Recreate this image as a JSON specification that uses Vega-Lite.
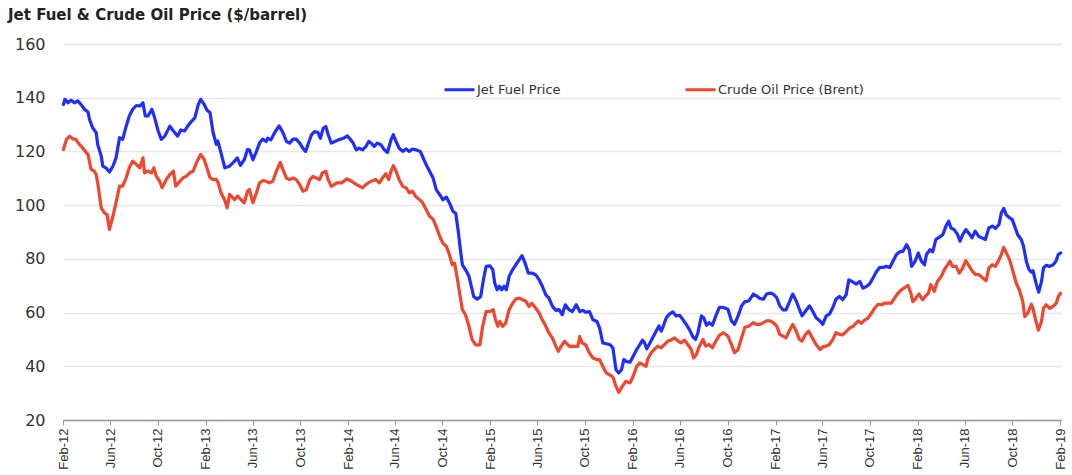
{
  "$schema": "https://vega.github.io/schema/vega-lite/v6.json",
  "width": 998,
  "height": 376,
  "autosize": "none",
  "padding": {"left": 63, "top": 44, "right": 11, "bottom": 55},
  "background": "white",
  "title": {"text": "Jet Fuel & Crude Oil Price ($/barrel)", "anchor": "start", "frame": "group", "dx": -55, "offset": 13, "font": "DejaVu Sans", "fontSize": 15, "fontWeight": "bold", "color": "#222222"},
  "config": {"view": {"stroke": null}},
  "data": {"values": [
    {"date":"2012-02-02","s":"Jet Fuel Price","v":137.5},
    {"date":"2012-02-06","s":"Jet Fuel Price","v":139.4},
    {"date":"2012-02-14","s":"Jet Fuel Price","v":138.1},
    {"date":"2012-02-22","s":"Jet Fuel Price","v":139.1},
    {"date":"2012-03-01","s":"Jet Fuel Price","v":138.1},
    {"date":"2012-03-10","s":"Jet Fuel Price","v":138.8},
    {"date":"2012-03-18","s":"Jet Fuel Price","v":137.5},
    {"date":"2012-03-27","s":"Jet Fuel Price","v":135.7},
    {"date":"2012-04-05","s":"Jet Fuel Price","v":134.7},
    {"date":"2012-04-09","s":"Jet Fuel Price","v":131.9},
    {"date":"2012-04-17","s":"Jet Fuel Price","v":128.8},
    {"date":"2012-04-26","s":"Jet Fuel Price","v":127.0},
    {"date":"2012-04-30","s":"Jet Fuel Price","v":122.6},
    {"date":"2012-05-09","s":"Jet Fuel Price","v":118.3},
    {"date":"2012-05-13","s":"Jet Fuel Price","v":114.5},
    {"date":"2012-05-21","s":"Jet Fuel Price","v":113.9},
    {"date":"2012-05-30","s":"Jet Fuel Price","v":112.3},
    {"date":"2012-06-08","s":"Jet Fuel Price","v":114.5},
    {"date":"2012-06-16","s":"Jet Fuel Price","v":117.6},
    {"date":"2012-06-25","s":"Jet Fuel Price","v":125.1},
    {"date":"2012-07-03","s":"Jet Fuel Price","v":124.5},
    {"date":"2012-07-12","s":"Jet Fuel Price","v":129.4},
    {"date":"2012-07-20","s":"Jet Fuel Price","v":133.2},
    {"date":"2012-07-29","s":"Jet Fuel Price","v":135.7},
    {"date":"2012-08-07","s":"Jet Fuel Price","v":137.1},
    {"date":"2012-08-16","s":"Jet Fuel Price","v":136.9},
    {"date":"2012-08-24","s":"Jet Fuel Price","v":138.1},
    {"date":"2012-08-30","s":"Jet Fuel Price","v":133.2},
    {"date":"2012-09-06","s":"Jet Fuel Price","v":133.2},
    {"date":"2012-09-16","s":"Jet Fuel Price","v":135.7},
    {"date":"2012-09-23","s":"Jet Fuel Price","v":132.5},
    {"date":"2012-10-02","s":"Jet Fuel Price","v":127.6},
    {"date":"2012-10-10","s":"Jet Fuel Price","v":124.5},
    {"date":"2012-10-19","s":"Jet Fuel Price","v":125.7},
    {"date":"2012-11-01","s":"Jet Fuel Price","v":129.4},
    {"date":"2012-11-10","s":"Jet Fuel Price","v":127.6},
    {"date":"2012-11-21","s":"Jet Fuel Price","v":125.7},
    {"date":"2012-11-29","s":"Jet Fuel Price","v":128.0},
    {"date":"2012-12-09","s":"Jet Fuel Price","v":127.6},
    {"date":"2012-12-18","s":"Jet Fuel Price","v":129.7},
    {"date":"2012-12-27","s":"Jet Fuel Price","v":131.3},
    {"date":"2013-01-04","s":"Jet Fuel Price","v":132.5},
    {"date":"2013-01-13","s":"Jet Fuel Price","v":137.5},
    {"date":"2013-01-19","s":"Jet Fuel Price","v":139.4},
    {"date":"2013-01-28","s":"Jet Fuel Price","v":137.5},
    {"date":"2013-02-04","s":"Jet Fuel Price","v":135.4},
    {"date":"2013-02-12","s":"Jet Fuel Price","v":134.4},
    {"date":"2013-02-20","s":"Jet Fuel Price","v":127.0},
    {"date":"2013-02-28","s":"Jet Fuel Price","v":122.6},
    {"date":"2013-03-04","s":"Jet Fuel Price","v":123.9},
    {"date":"2013-03-12","s":"Jet Fuel Price","v":119.5},
    {"date":"2013-03-22","s":"Jet Fuel Price","v":113.9},
    {"date":"2013-04-03","s":"Jet Fuel Price","v":114.5},
    {"date":"2013-04-16","s":"Jet Fuel Price","v":116.4},
    {"date":"2013-04-23","s":"Jet Fuel Price","v":117.6},
    {"date":"2013-05-01","s":"Jet Fuel Price","v":114.8},
    {"date":"2013-05-11","s":"Jet Fuel Price","v":117.0},
    {"date":"2013-05-19","s":"Jet Fuel Price","v":120.7},
    {"date":"2013-05-24","s":"Jet Fuel Price","v":120.6},
    {"date":"2013-06-02","s":"Jet Fuel Price","v":116.9},
    {"date":"2013-06-11","s":"Jet Fuel Price","v":120.0},
    {"date":"2013-06-19","s":"Jet Fuel Price","v":123.1},
    {"date":"2013-06-27","s":"Jet Fuel Price","v":124.6},
    {"date":"2013-07-06","s":"Jet Fuel Price","v":123.7},
    {"date":"2013-07-10","s":"Jet Fuel Price","v":124.9},
    {"date":"2013-07-18","s":"Jet Fuel Price","v":124.3},
    {"date":"2013-07-27","s":"Jet Fuel Price","v":126.8},
    {"date":"2013-08-08","s":"Jet Fuel Price","v":129.5},
    {"date":"2013-08-18","s":"Jet Fuel Price","v":127.0},
    {"date":"2013-08-27","s":"Jet Fuel Price","v":123.7},
    {"date":"2013-09-04","s":"Jet Fuel Price","v":123.1},
    {"date":"2013-09-13","s":"Jet Fuel Price","v":124.6},
    {"date":"2013-09-21","s":"Jet Fuel Price","v":124.6},
    {"date":"2013-09-30","s":"Jet Fuel Price","v":123.1},
    {"date":"2013-10-08","s":"Jet Fuel Price","v":121.2},
    {"date":"2013-10-15","s":"Jet Fuel Price","v":120.0},
    {"date":"2013-10-21","s":"Jet Fuel Price","v":122.5},
    {"date":"2013-10-30","s":"Jet Fuel Price","v":126.2},
    {"date":"2013-11-07","s":"Jet Fuel Price","v":127.4},
    {"date":"2013-11-16","s":"Jet Fuel Price","v":127.0},
    {"date":"2013-11-22","s":"Jet Fuel Price","v":124.9},
    {"date":"2013-11-29","s":"Jet Fuel Price","v":128.6},
    {"date":"2013-12-06","s":"Jet Fuel Price","v":129.3},
    {"date":"2013-12-12","s":"Jet Fuel Price","v":126.2},
    {"date":"2013-12-20","s":"Jet Fuel Price","v":123.1},
    {"date":"2013-12-29","s":"Jet Fuel Price","v":123.7},
    {"date":"2014-01-07","s":"Jet Fuel Price","v":124.3},
    {"date":"2014-01-20","s":"Jet Fuel Price","v":124.9},
    {"date":"2014-01-30","s":"Jet Fuel Price","v":125.8},
    {"date":"2014-02-06","s":"Jet Fuel Price","v":124.6},
    {"date":"2014-02-14","s":"Jet Fuel Price","v":123.1},
    {"date":"2014-02-22","s":"Jet Fuel Price","v":120.6},
    {"date":"2014-03-01","s":"Jet Fuel Price","v":121.2},
    {"date":"2014-03-10","s":"Jet Fuel Price","v":120.6},
    {"date":"2014-03-19","s":"Jet Fuel Price","v":121.9},
    {"date":"2014-03-26","s":"Jet Fuel Price","v":123.7},
    {"date":"2014-04-01","s":"Jet Fuel Price","v":123.1},
    {"date":"2014-04-09","s":"Jet Fuel Price","v":121.9},
    {"date":"2014-04-17","s":"Jet Fuel Price","v":123.1},
    {"date":"2014-04-26","s":"Jet Fuel Price","v":122.5},
    {"date":"2014-05-05","s":"Jet Fuel Price","v":120.6},
    {"date":"2014-05-13","s":"Jet Fuel Price","v":119.6},
    {"date":"2014-05-22","s":"Jet Fuel Price","v":124.3},
    {"date":"2014-05-28","s":"Jet Fuel Price","v":126.2},
    {"date":"2014-06-04","s":"Jet Fuel Price","v":123.7},
    {"date":"2014-06-12","s":"Jet Fuel Price","v":121.2},
    {"date":"2014-06-21","s":"Jet Fuel Price","v":120.0},
    {"date":"2014-06-30","s":"Jet Fuel Price","v":120.9},
    {"date":"2014-07-08","s":"Jet Fuel Price","v":120.0},
    {"date":"2014-07-16","s":"Jet Fuel Price","v":120.9},
    {"date":"2014-07-25","s":"Jet Fuel Price","v":120.6},
    {"date":"2014-08-05","s":"Jet Fuel Price","v":120.0},
    {"date":"2014-08-11","s":"Jet Fuel Price","v":118.1},
    {"date":"2014-08-20","s":"Jet Fuel Price","v":115.1},
    {"date":"2014-08-29","s":"Jet Fuel Price","v":112.6},
    {"date":"2014-09-07","s":"Jet Fuel Price","v":110.1},
    {"date":"2014-09-15","s":"Jet Fuel Price","v":105.8},
    {"date":"2014-09-24","s":"Jet Fuel Price","v":103.9},
    {"date":"2014-10-02","s":"Jet Fuel Price","v":102.0},
    {"date":"2014-10-11","s":"Jet Fuel Price","v":103.0},
    {"date":"2014-10-19","s":"Jet Fuel Price","v":100.8},
    {"date":"2014-10-28","s":"Jet Fuel Price","v":97.7},
    {"date":"2014-11-04","s":"Jet Fuel Price","v":97.0},
    {"date":"2014-11-10","s":"Jet Fuel Price","v":90.8},
    {"date":"2014-11-16","s":"Jet Fuel Price","v":83.4},
    {"date":"2014-11-21","s":"Jet Fuel Price","v":77.8},
    {"date":"2014-11-29","s":"Jet Fuel Price","v":76.0},
    {"date":"2014-12-08","s":"Jet Fuel Price","v":73.5},
    {"date":"2014-12-14","s":"Jet Fuel Price","v":69.8},
    {"date":"2014-12-20","s":"Jet Fuel Price","v":66.0},
    {"date":"2014-12-29","s":"Jet Fuel Price","v":65.0},
    {"date":"2015-01-07","s":"Jet Fuel Price","v":66.0},
    {"date":"2015-01-14","s":"Jet Fuel Price","v":72.2},
    {"date":"2015-01-21","s":"Jet Fuel Price","v":77.2},
    {"date":"2015-01-31","s":"Jet Fuel Price","v":77.4},
    {"date":"2015-02-07","s":"Jet Fuel Price","v":76.0},
    {"date":"2015-02-12","s":"Jet Fuel Price","v":71.0},
    {"date":"2015-02-18","s":"Jet Fuel Price","v":68.5},
    {"date":"2015-02-24","s":"Jet Fuel Price","v":69.8},
    {"date":"2015-03-02","s":"Jet Fuel Price","v":68.5},
    {"date":"2015-03-08","s":"Jet Fuel Price","v":69.8},
    {"date":"2015-03-14","s":"Jet Fuel Price","v":68.5},
    {"date":"2015-03-21","s":"Jet Fuel Price","v":73.5},
    {"date":"2015-03-30","s":"Jet Fuel Price","v":76.0},
    {"date":"2015-04-07","s":"Jet Fuel Price","v":77.8},
    {"date":"2015-04-16","s":"Jet Fuel Price","v":79.7},
    {"date":"2015-04-23","s":"Jet Fuel Price","v":81.2},
    {"date":"2015-05-01","s":"Jet Fuel Price","v":78.4},
    {"date":"2015-05-09","s":"Jet Fuel Price","v":74.7},
    {"date":"2015-05-18","s":"Jet Fuel Price","v":74.7},
    {"date":"2015-05-28","s":"Jet Fuel Price","v":74.1},
    {"date":"2015-06-06","s":"Jet Fuel Price","v":72.2},
    {"date":"2015-06-14","s":"Jet Fuel Price","v":69.8},
    {"date":"2015-06-23","s":"Jet Fuel Price","v":66.6},
    {"date":"2015-07-01","s":"Jet Fuel Price","v":65.4},
    {"date":"2015-07-10","s":"Jet Fuel Price","v":62.3},
    {"date":"2015-07-19","s":"Jet Fuel Price","v":60.8},
    {"date":"2015-07-27","s":"Jet Fuel Price","v":61.1},
    {"date":"2015-08-04","s":"Jet Fuel Price","v":59.2},
    {"date":"2015-08-12","s":"Jet Fuel Price","v":62.9},
    {"date":"2015-08-21","s":"Jet Fuel Price","v":61.1},
    {"date":"2015-08-30","s":"Jet Fuel Price","v":60.4},
    {"date":"2015-09-09","s":"Jet Fuel Price","v":62.9},
    {"date":"2015-09-18","s":"Jet Fuel Price","v":60.4},
    {"date":"2015-09-26","s":"Jet Fuel Price","v":60.8},
    {"date":"2015-10-04","s":"Jet Fuel Price","v":60.1},
    {"date":"2015-10-13","s":"Jet Fuel Price","v":60.4},
    {"date":"2015-10-22","s":"Jet Fuel Price","v":57.3},
    {"date":"2015-11-01","s":"Jet Fuel Price","v":56.7},
    {"date":"2015-11-08","s":"Jet Fuel Price","v":54.2},
    {"date":"2015-11-16","s":"Jet Fuel Price","v":48.7},
    {"date":"2015-11-25","s":"Jet Fuel Price","v":48.4},
    {"date":"2015-12-05","s":"Jet Fuel Price","v":48.0},
    {"date":"2015-12-12","s":"Jet Fuel Price","v":46.8},
    {"date":"2015-12-20","s":"Jet Fuel Price","v":38.7},
    {"date":"2015-12-27","s":"Jet Fuel Price","v":37.5},
    {"date":"2016-01-03","s":"Jet Fuel Price","v":38.7},
    {"date":"2016-01-09","s":"Jet Fuel Price","v":42.5},
    {"date":"2016-01-16","s":"Jet Fuel Price","v":41.8},
    {"date":"2016-01-25","s":"Jet Fuel Price","v":41.5},
    {"date":"2016-02-02","s":"Jet Fuel Price","v":43.75},
    {"date":"2016-02-11","s":"Jet Fuel Price","v":46.25},
    {"date":"2016-02-19","s":"Jet Fuel Price","v":48.1},
    {"date":"2016-02-26","s":"Jet Fuel Price","v":49.75},
    {"date":"2016-03-02","s":"Jet Fuel Price","v":48.75},
    {"date":"2016-03-08","s":"Jet Fuel Price","v":46.5},
    {"date":"2016-03-14","s":"Jet Fuel Price","v":48.1},
    {"date":"2016-03-23","s":"Jet Fuel Price","v":50.6},
    {"date":"2016-04-01","s":"Jet Fuel Price","v":53.1},
    {"date":"2016-04-08","s":"Jet Fuel Price","v":55.0},
    {"date":"2016-04-14","s":"Jet Fuel Price","v":53.1},
    {"date":"2016-04-20","s":"Jet Fuel Price","v":55.25},
    {"date":"2016-04-27","s":"Jet Fuel Price","v":58.1},
    {"date":"2016-05-05","s":"Jet Fuel Price","v":59.4},
    {"date":"2016-05-14","s":"Jet Fuel Price","v":60.25},
    {"date":"2016-05-22","s":"Jet Fuel Price","v":58.75},
    {"date":"2016-05-31","s":"Jet Fuel Price","v":59.0},
    {"date":"2016-06-08","s":"Jet Fuel Price","v":57.5},
    {"date":"2016-06-17","s":"Jet Fuel Price","v":55.6},
    {"date":"2016-06-25","s":"Jet Fuel Price","v":53.75},
    {"date":"2016-07-04","s":"Jet Fuel Price","v":51.0},
    {"date":"2016-07-11","s":"Jet Fuel Price","v":50.0},
    {"date":"2016-07-17","s":"Jet Fuel Price","v":52.5},
    {"date":"2016-07-26","s":"Jet Fuel Price","v":58.75},
    {"date":"2016-08-01","s":"Jet Fuel Price","v":58.1},
    {"date":"2016-08-08","s":"Jet Fuel Price","v":55.25},
    {"date":"2016-08-15","s":"Jet Fuel Price","v":56.25},
    {"date":"2016-08-23","s":"Jet Fuel Price","v":55.25},
    {"date":"2016-09-01","s":"Jet Fuel Price","v":58.75},
    {"date":"2016-09-10","s":"Jet Fuel Price","v":61.9},
    {"date":"2016-09-20","s":"Jet Fuel Price","v":61.9},
    {"date":"2016-10-02","s":"Jet Fuel Price","v":61.25},
    {"date":"2016-10-11","s":"Jet Fuel Price","v":56.9},
    {"date":"2016-10-19","s":"Jet Fuel Price","v":55.6},
    {"date":"2016-10-28","s":"Jet Fuel Price","v":58.75},
    {"date":"2016-11-06","s":"Jet Fuel Price","v":62.5},
    {"date":"2016-11-14","s":"Jet Fuel Price","v":64.0},
    {"date":"2016-11-25","s":"Jet Fuel Price","v":64.4},
    {"date":"2016-12-06","s":"Jet Fuel Price","v":66.9},
    {"date":"2016-12-14","s":"Jet Fuel Price","v":66.25},
    {"date":"2016-12-23","s":"Jet Fuel Price","v":65.25},
    {"date":"2017-01-01","s":"Jet Fuel Price","v":65.0},
    {"date":"2017-01-09","s":"Jet Fuel Price","v":66.9},
    {"date":"2017-01-18","s":"Jet Fuel Price","v":67.25},
    {"date":"2017-01-26","s":"Jet Fuel Price","v":66.9},
    {"date":"2017-02-04","s":"Jet Fuel Price","v":65.6},
    {"date":"2017-02-12","s":"Jet Fuel Price","v":62.5},
    {"date":"2017-02-20","s":"Jet Fuel Price","v":61.0},
    {"date":"2017-02-28","s":"Jet Fuel Price","v":61.0},
    {"date":"2017-03-08","s":"Jet Fuel Price","v":63.75},
    {"date":"2017-03-17","s":"Jet Fuel Price","v":66.9},
    {"date":"2017-03-26","s":"Jet Fuel Price","v":64.4},
    {"date":"2017-04-03","s":"Jet Fuel Price","v":61.25},
    {"date":"2017-04-10","s":"Jet Fuel Price","v":58.75},
    {"date":"2017-04-19","s":"Jet Fuel Price","v":60.6},
    {"date":"2017-04-29","s":"Jet Fuel Price","v":62.5},
    {"date":"2017-05-07","s":"Jet Fuel Price","v":60.6},
    {"date":"2017-05-16","s":"Jet Fuel Price","v":58.1},
    {"date":"2017-05-26","s":"Jet Fuel Price","v":56.9},
    {"date":"2017-06-02","s":"Jet Fuel Price","v":55.6},
    {"date":"2017-06-11","s":"Jet Fuel Price","v":58.75},
    {"date":"2017-06-19","s":"Jet Fuel Price","v":59.4},
    {"date":"2017-06-28","s":"Jet Fuel Price","v":61.9},
    {"date":"2017-07-06","s":"Jet Fuel Price","v":65.0},
    {"date":"2017-07-15","s":"Jet Fuel Price","v":66.0},
    {"date":"2017-07-23","s":"Jet Fuel Price","v":64.8},
    {"date":"2017-08-01","s":"Jet Fuel Price","v":66.6},
    {"date":"2017-08-08","s":"Jet Fuel Price","v":72.2},
    {"date":"2017-08-18","s":"Jet Fuel Price","v":71.4},
    {"date":"2017-08-27","s":"Jet Fuel Price","v":70.6},
    {"date":"2017-09-05","s":"Jet Fuel Price","v":71.6},
    {"date":"2017-09-13","s":"Jet Fuel Price","v":69.1},
    {"date":"2017-09-22","s":"Jet Fuel Price","v":69.7},
    {"date":"2017-09-30","s":"Jet Fuel Price","v":70.6},
    {"date":"2017-10-09","s":"Jet Fuel Price","v":72.9},
    {"date":"2017-10-18","s":"Jet Fuel Price","v":75.3},
    {"date":"2017-10-26","s":"Jet Fuel Price","v":76.8},
    {"date":"2017-11-04","s":"Jet Fuel Price","v":76.8},
    {"date":"2017-11-12","s":"Jet Fuel Price","v":77.2},
    {"date":"2017-11-21","s":"Jet Fuel Price","v":76.8},
    {"date":"2017-11-29","s":"Jet Fuel Price","v":79.1},
    {"date":"2017-12-08","s":"Jet Fuel Price","v":81.6},
    {"date":"2017-12-16","s":"Jet Fuel Price","v":82.6},
    {"date":"2017-12-25","s":"Jet Fuel Price","v":82.8},
    {"date":"2018-01-03","s":"Jet Fuel Price","v":85.3},
    {"date":"2018-01-10","s":"Jet Fuel Price","v":83.4},
    {"date":"2018-01-16","s":"Jet Fuel Price","v":77.2},
    {"date":"2018-01-25","s":"Jet Fuel Price","v":79.1},
    {"date":"2018-02-02","s":"Jet Fuel Price","v":82.2},
    {"date":"2018-02-10","s":"Jet Fuel Price","v":79.1},
    {"date":"2018-02-18","s":"Jet Fuel Price","v":77.8},
    {"date":"2018-02-23","s":"Jet Fuel Price","v":81.6},
    {"date":"2018-03-04","s":"Jet Fuel Price","v":83.4},
    {"date":"2018-03-11","s":"Jet Fuel Price","v":82.6},
    {"date":"2018-03-19","s":"Jet Fuel Price","v":87.2},
    {"date":"2018-03-27","s":"Jet Fuel Price","v":88.0},
    {"date":"2018-04-06","s":"Jet Fuel Price","v":89.0},
    {"date":"2018-04-14","s":"Jet Fuel Price","v":92.2},
    {"date":"2018-04-21","s":"Jet Fuel Price","v":94.0},
    {"date":"2018-04-27","s":"Jet Fuel Price","v":91.5},
    {"date":"2018-05-05","s":"Jet Fuel Price","v":90.9},
    {"date":"2018-05-14","s":"Jet Fuel Price","v":89.0},
    {"date":"2018-05-20","s":"Jet Fuel Price","v":86.6},
    {"date":"2018-05-27","s":"Jet Fuel Price","v":89.0},
    {"date":"2018-06-04","s":"Jet Fuel Price","v":90.9},
    {"date":"2018-06-13","s":"Jet Fuel Price","v":89.3},
    {"date":"2018-06-20","s":"Jet Fuel Price","v":87.8},
    {"date":"2018-06-28","s":"Jet Fuel Price","v":90.3},
    {"date":"2018-07-07","s":"Jet Fuel Price","v":88.4},
    {"date":"2018-07-15","s":"Jet Fuel Price","v":87.8},
    {"date":"2018-07-24","s":"Jet Fuel Price","v":87.2},
    {"date":"2018-08-02","s":"Jet Fuel Price","v":91.5},
    {"date":"2018-08-11","s":"Jet Fuel Price","v":92.2},
    {"date":"2018-08-19","s":"Jet Fuel Price","v":91.3},
    {"date":"2018-08-28","s":"Jet Fuel Price","v":92.8},
    {"date":"2018-09-03","s":"Jet Fuel Price","v":97.1},
    {"date":"2018-09-09","s":"Jet Fuel Price","v":98.8},
    {"date":"2018-09-16","s":"Jet Fuel Price","v":96.3},
    {"date":"2018-09-24","s":"Jet Fuel Price","v":95.3},
    {"date":"2018-10-01","s":"Jet Fuel Price","v":94.6},
    {"date":"2018-10-07","s":"Jet Fuel Price","v":92.2},
    {"date":"2018-10-15","s":"Jet Fuel Price","v":89.0},
    {"date":"2018-10-24","s":"Jet Fuel Price","v":87.2},
    {"date":"2018-10-30","s":"Jet Fuel Price","v":84.7},
    {"date":"2018-11-06","s":"Jet Fuel Price","v":79.1},
    {"date":"2018-11-13","s":"Jet Fuel Price","v":76.0},
    {"date":"2018-11-19","s":"Jet Fuel Price","v":75.1},
    {"date":"2018-11-23","s":"Jet Fuel Price","v":75.6},
    {"date":"2018-12-02","s":"Jet Fuel Price","v":70.4},
    {"date":"2018-12-08","s":"Jet Fuel Price","v":67.6},
    {"date":"2018-12-15","s":"Jet Fuel Price","v":71.6},
    {"date":"2018-12-20","s":"Jet Fuel Price","v":76.6},
    {"date":"2018-12-27","s":"Jet Fuel Price","v":77.6},
    {"date":"2019-01-05","s":"Jet Fuel Price","v":77.2},
    {"date":"2019-01-14","s":"Jet Fuel Price","v":77.8},
    {"date":"2019-01-21","s":"Jet Fuel Price","v":79.1},
    {"date":"2019-01-27","s":"Jet Fuel Price","v":81.6},
    {"date":"2019-02-02","s":"Jet Fuel Price","v":82.2},
    {"date":"2012-02-02","s":"Crude Oil Price (Brent)","v":120.7},
    {"date":"2012-02-10","s":"Crude Oil Price (Brent)","v":124.5},
    {"date":"2012-02-18","s":"Crude Oil Price (Brent)","v":125.7},
    {"date":"2012-02-26","s":"Crude Oil Price (Brent)","v":124.7},
    {"date":"2012-03-05","s":"Crude Oil Price (Brent)","v":124.5},
    {"date":"2012-03-14","s":"Crude Oil Price (Brent)","v":122.6},
    {"date":"2012-03-22","s":"Crude Oil Price (Brent)","v":121.4},
    {"date":"2012-04-01","s":"Crude Oil Price (Brent)","v":119.5},
    {"date":"2012-04-05","s":"Crude Oil Price (Brent)","v":118.9},
    {"date":"2012-04-13","s":"Crude Oil Price (Brent)","v":113.3},
    {"date":"2012-04-21","s":"Crude Oil Price (Brent)","v":112.7},
    {"date":"2012-04-26","s":"Crude Oil Price (Brent)","v":111.4},
    {"date":"2012-04-30","s":"Crude Oil Price (Brent)","v":108.3},
    {"date":"2012-05-09","s":"Crude Oil Price (Brent)","v":99.0},
    {"date":"2012-05-17","s":"Crude Oil Price (Brent)","v":97.1},
    {"date":"2012-05-24","s":"Crude Oil Price (Brent)","v":96.5},
    {"date":"2012-05-30","s":"Crude Oil Price (Brent)","v":90.9},
    {"date":"2012-06-08","s":"Crude Oil Price (Brent)","v":95.9},
    {"date":"2012-06-16","s":"Crude Oil Price (Brent)","v":100.9},
    {"date":"2012-06-25","s":"Crude Oil Price (Brent)","v":107.1},
    {"date":"2012-07-03","s":"Crude Oil Price (Brent)","v":107.1},
    {"date":"2012-07-12","s":"Crude Oil Price (Brent)","v":110.2},
    {"date":"2012-07-20","s":"Crude Oil Price (Brent)","v":113.9},
    {"date":"2012-07-29","s":"Crude Oil Price (Brent)","v":116.4},
    {"date":"2012-08-07","s":"Crude Oil Price (Brent)","v":115.2},
    {"date":"2012-08-16","s":"Crude Oil Price (Brent)","v":113.9},
    {"date":"2012-08-24","s":"Crude Oil Price (Brent)","v":117.6},
    {"date":"2012-08-28","s":"Crude Oil Price (Brent)","v":112.0},
    {"date":"2012-09-06","s":"Crude Oil Price (Brent)","v":112.7},
    {"date":"2012-09-15","s":"Crude Oil Price (Brent)","v":112.0},
    {"date":"2012-09-21","s":"Crude Oil Price (Brent)","v":113.9},
    {"date":"2012-09-27","s":"Crude Oil Price (Brent)","v":110.8},
    {"date":"2012-10-06","s":"Crude Oil Price (Brent)","v":108.9},
    {"date":"2012-10-12","s":"Crude Oil Price (Brent)","v":106.5},
    {"date":"2012-10-23","s":"Crude Oil Price (Brent)","v":109.6},
    {"date":"2012-11-01","s":"Crude Oil Price (Brent)","v":111.4},
    {"date":"2012-11-10","s":"Crude Oil Price (Brent)","v":112.7},
    {"date":"2012-11-16","s":"Crude Oil Price (Brent)","v":107.1},
    {"date":"2012-11-27","s":"Crude Oil Price (Brent)","v":108.9},
    {"date":"2012-12-05","s":"Crude Oil Price (Brent)","v":110.2},
    {"date":"2012-12-14","s":"Crude Oil Price (Brent)","v":110.8},
    {"date":"2012-12-22","s":"Crude Oil Price (Brent)","v":112.0},
    {"date":"2012-12-31","s":"Crude Oil Price (Brent)","v":112.7},
    {"date":"2013-01-08","s":"Crude Oil Price (Brent)","v":115.8},
    {"date":"2013-01-19","s":"Crude Oil Price (Brent)","v":118.9},
    {"date":"2013-01-28","s":"Crude Oil Price (Brent)","v":117.0},
    {"date":"2013-02-04","s":"Crude Oil Price (Brent)","v":113.9},
    {"date":"2013-02-12","s":"Crude Oil Price (Brent)","v":110.2},
    {"date":"2013-02-20","s":"Crude Oil Price (Brent)","v":109.6},
    {"date":"2013-02-28","s":"Crude Oil Price (Brent)","v":109.6},
    {"date":"2013-03-05","s":"Crude Oil Price (Brent)","v":108.3},
    {"date":"2013-03-12","s":"Crude Oil Price (Brent)","v":104.6},
    {"date":"2013-03-21","s":"Crude Oil Price (Brent)","v":102.1},
    {"date":"2013-03-28","s":"Crude Oil Price (Brent)","v":99.0},
    {"date":"2013-04-03","s":"Crude Oil Price (Brent)","v":104.0},
    {"date":"2013-04-16","s":"Crude Oil Price (Brent)","v":102.1},
    {"date":"2013-04-24","s":"Crude Oil Price (Brent)","v":103.4},
    {"date":"2013-05-02","s":"Crude Oil Price (Brent)","v":102.1},
    {"date":"2013-05-11","s":"Crude Oil Price (Brent)","v":100.9},
    {"date":"2013-05-19","s":"Crude Oil Price (Brent)","v":105.2},
    {"date":"2013-05-24","s":"Crude Oil Price (Brent)","v":105.8},
    {"date":"2013-06-02","s":"Crude Oil Price (Brent)","v":100.9},
    {"date":"2013-06-11","s":"Crude Oil Price (Brent)","v":104.6},
    {"date":"2013-06-19","s":"Crude Oil Price (Brent)","v":108.3},
    {"date":"2013-06-27","s":"Crude Oil Price (Brent)","v":109.1},
    {"date":"2013-07-06","s":"Crude Oil Price (Brent)","v":108.9},
    {"date":"2013-07-14","s":"Crude Oil Price (Brent)","v":108.3},
    {"date":"2013-07-23","s":"Crude Oil Price (Brent)","v":108.9},
    {"date":"2013-08-01","s":"Crude Oil Price (Brent)","v":112.6},
    {"date":"2013-08-11","s":"Crude Oil Price (Brent)","v":115.9},
    {"date":"2013-08-18","s":"Crude Oil Price (Brent)","v":113.2},
    {"date":"2013-08-27","s":"Crude Oil Price (Brent)","v":110.1},
    {"date":"2013-09-04","s":"Crude Oil Price (Brent)","v":109.5},
    {"date":"2013-09-13","s":"Crude Oil Price (Brent)","v":110.1},
    {"date":"2013-09-21","s":"Crude Oil Price (Brent)","v":109.5},
    {"date":"2013-09-30","s":"Crude Oil Price (Brent)","v":107.7},
    {"date":"2013-10-08","s":"Crude Oil Price (Brent)","v":105.2},
    {"date":"2013-10-17","s":"Crude Oil Price (Brent)","v":105.8},
    {"date":"2013-10-26","s":"Crude Oil Price (Brent)","v":109.5},
    {"date":"2013-11-03","s":"Crude Oil Price (Brent)","v":110.7},
    {"date":"2013-11-12","s":"Crude Oil Price (Brent)","v":110.1},
    {"date":"2013-11-20","s":"Crude Oil Price (Brent)","v":109.5},
    {"date":"2013-11-27","s":"Crude Oil Price (Brent)","v":112.0},
    {"date":"2013-12-06","s":"Crude Oil Price (Brent)","v":112.6},
    {"date":"2013-12-12","s":"Crude Oil Price (Brent)","v":109.5},
    {"date":"2013-12-20","s":"Crude Oil Price (Brent)","v":107.0},
    {"date":"2014-01-03","s":"Crude Oil Price (Brent)","v":108.3},
    {"date":"2014-01-16","s":"Crude Oil Price (Brent)","v":108.3},
    {"date":"2014-01-29","s":"Crude Oil Price (Brent)","v":109.8},
    {"date":"2014-02-10","s":"Crude Oil Price (Brent)","v":108.9},
    {"date":"2014-02-22","s":"Crude Oil Price (Brent)","v":107.7},
    {"date":"2014-03-10","s":"Crude Oil Price (Brent)","v":106.4},
    {"date":"2014-03-19","s":"Crude Oil Price (Brent)","v":107.7},
    {"date":"2014-04-01","s":"Crude Oil Price (Brent)","v":108.9},
    {"date":"2014-04-13","s":"Crude Oil Price (Brent)","v":109.5},
    {"date":"2014-04-22","s":"Crude Oil Price (Brent)","v":108.3},
    {"date":"2014-04-30","s":"Crude Oil Price (Brent)","v":110.1},
    {"date":"2014-05-09","s":"Crude Oil Price (Brent)","v":111.7},
    {"date":"2014-05-16","s":"Crude Oil Price (Brent)","v":109.5},
    {"date":"2014-05-22","s":"Crude Oil Price (Brent)","v":112.6},
    {"date":"2014-05-28","s":"Crude Oil Price (Brent)","v":114.7},
    {"date":"2014-06-04","s":"Crude Oil Price (Brent)","v":112.6},
    {"date":"2014-06-12","s":"Crude Oil Price (Brent)","v":109.5},
    {"date":"2014-06-21","s":"Crude Oil Price (Brent)","v":107.0},
    {"date":"2014-06-30","s":"Crude Oil Price (Brent)","v":106.4},
    {"date":"2014-07-08","s":"Crude Oil Price (Brent)","v":104.6},
    {"date":"2014-07-16","s":"Crude Oil Price (Brent)","v":105.2},
    {"date":"2014-07-25","s":"Crude Oil Price (Brent)","v":103.1},
    {"date":"2014-08-03","s":"Crude Oil Price (Brent)","v":102.1},
    {"date":"2014-08-11","s":"Crude Oil Price (Brent)","v":100.9},
    {"date":"2014-08-20","s":"Crude Oil Price (Brent)","v":98.4},
    {"date":"2014-08-29","s":"Crude Oil Price (Brent)","v":95.9},
    {"date":"2014-09-07","s":"Crude Oil Price (Brent)","v":94.7},
    {"date":"2014-09-15","s":"Crude Oil Price (Brent)","v":92.0},
    {"date":"2014-09-24","s":"Crude Oil Price (Brent)","v":88.4},
    {"date":"2014-10-02","s":"Crude Oil Price (Brent)","v":85.9},
    {"date":"2014-10-11","s":"Crude Oil Price (Brent)","v":84.6},
    {"date":"2014-10-19","s":"Crude Oil Price (Brent)","v":81.5},
    {"date":"2014-10-26","s":"Crude Oil Price (Brent)","v":77.8},
    {"date":"2014-11-01","s":"Crude Oil Price (Brent)","v":78.4},
    {"date":"2014-11-07","s":"Crude Oil Price (Brent)","v":73.5},
    {"date":"2014-11-14","s":"Crude Oil Price (Brent)","v":67.3},
    {"date":"2014-11-21","s":"Crude Oil Price (Brent)","v":61.1},
    {"date":"2014-11-29","s":"Crude Oil Price (Brent)","v":59.2},
    {"date":"2014-12-08","s":"Crude Oil Price (Brent)","v":54.9},
    {"date":"2014-12-16","s":"Crude Oil Price (Brent)","v":49.9},
    {"date":"2014-12-25","s":"Crude Oil Price (Brent)","v":48.0},
    {"date":"2015-01-05","s":"Crude Oil Price (Brent)","v":48.0},
    {"date":"2015-01-12","s":"Crude Oil Price (Brent)","v":54.9},
    {"date":"2015-01-21","s":"Crude Oil Price (Brent)","v":60.4},
    {"date":"2015-01-31","s":"Crude Oil Price (Brent)","v":60.4},
    {"date":"2015-02-08","s":"Crude Oil Price (Brent)","v":61.1},
    {"date":"2015-02-14","s":"Crude Oil Price (Brent)","v":57.3},
    {"date":"2015-02-20","s":"Crude Oil Price (Brent)","v":54.9},
    {"date":"2015-02-25","s":"Crude Oil Price (Brent)","v":56.7},
    {"date":"2015-03-04","s":"Crude Oil Price (Brent)","v":54.9},
    {"date":"2015-03-12","s":"Crude Oil Price (Brent)","v":56.1},
    {"date":"2015-03-21","s":"Crude Oil Price (Brent)","v":61.1},
    {"date":"2015-03-30","s":"Crude Oil Price (Brent)","v":63.5},
    {"date":"2015-04-07","s":"Crude Oil Price (Brent)","v":65.0},
    {"date":"2015-04-16","s":"Crude Oil Price (Brent)","v":65.4},
    {"date":"2015-04-24","s":"Crude Oil Price (Brent)","v":64.8},
    {"date":"2015-05-03","s":"Crude Oil Price (Brent)","v":64.2},
    {"date":"2015-05-11","s":"Crude Oil Price (Brent)","v":62.3},
    {"date":"2015-05-18","s":"Crude Oil Price (Brent)","v":63.5},
    {"date":"2015-05-28","s":"Crude Oil Price (Brent)","v":61.7},
    {"date":"2015-06-06","s":"Crude Oil Price (Brent)","v":59.8},
    {"date":"2015-06-14","s":"Crude Oil Price (Brent)","v":57.3},
    {"date":"2015-06-23","s":"Crude Oil Price (Brent)","v":54.9},
    {"date":"2015-07-01","s":"Crude Oil Price (Brent)","v":52.4},
    {"date":"2015-07-10","s":"Crude Oil Price (Brent)","v":50.5},
    {"date":"2015-07-19","s":"Crude Oil Price (Brent)","v":47.4},
    {"date":"2015-07-25","s":"Crude Oil Price (Brent)","v":45.6},
    {"date":"2015-08-01","s":"Crude Oil Price (Brent)","v":47.4},
    {"date":"2015-08-10","s":"Crude Oil Price (Brent)","v":49.3},
    {"date":"2015-08-23","s":"Crude Oil Price (Brent)","v":47.4},
    {"date":"2015-09-05","s":"Crude Oil Price (Brent)","v":47.4},
    {"date":"2015-09-13","s":"Crude Oil Price (Brent)","v":47.4},
    {"date":"2015-09-18","s":"Crude Oil Price (Brent)","v":51.1},
    {"date":"2015-09-24","s":"Crude Oil Price (Brent)","v":48.7},
    {"date":"2015-10-03","s":"Crude Oil Price (Brent)","v":48.0},
    {"date":"2015-10-13","s":"Crude Oil Price (Brent)","v":44.9},
    {"date":"2015-10-22","s":"Crude Oil Price (Brent)","v":43.1},
    {"date":"2015-10-31","s":"Crude Oil Price (Brent)","v":42.5},
    {"date":"2015-11-08","s":"Crude Oil Price (Brent)","v":42.5},
    {"date":"2015-11-16","s":"Crude Oil Price (Brent)","v":40.0},
    {"date":"2015-11-25","s":"Crude Oil Price (Brent)","v":37.5},
    {"date":"2015-12-03","s":"Crude Oil Price (Brent)","v":36.9},
    {"date":"2015-12-12","s":"Crude Oil Price (Brent)","v":36.0},
    {"date":"2015-12-20","s":"Crude Oil Price (Brent)","v":32.5},
    {"date":"2015-12-27","s":"Crude Oil Price (Brent)","v":30.3},
    {"date":"2016-01-05","s":"Crude Oil Price (Brent)","v":32.5},
    {"date":"2016-01-14","s":"Crude Oil Price (Brent)","v":34.4},
    {"date":"2016-01-25","s":"Crude Oil Price (Brent)","v":33.8},
    {"date":"2016-02-02","s":"Crude Oil Price (Brent)","v":36.3},
    {"date":"2016-02-11","s":"Crude Oil Price (Brent)","v":40.0},
    {"date":"2016-02-19","s":"Crude Oil Price (Brent)","v":41.25},
    {"date":"2016-02-27","s":"Crude Oil Price (Brent)","v":40.6},
    {"date":"2016-03-06","s":"Crude Oil Price (Brent)","v":40.0},
    {"date":"2016-03-10","s":"Crude Oil Price (Brent)","v":42.5},
    {"date":"2016-03-19","s":"Crude Oil Price (Brent)","v":45.0},
    {"date":"2016-03-27","s":"Crude Oil Price (Brent)","v":46.25},
    {"date":"2016-04-05","s":"Crude Oil Price (Brent)","v":47.5},
    {"date":"2016-04-14","s":"Crude Oil Price (Brent)","v":46.9},
    {"date":"2016-04-22","s":"Crude Oil Price (Brent)","v":48.1},
    {"date":"2016-05-01","s":"Crude Oil Price (Brent)","v":49.4},
    {"date":"2016-05-09","s":"Crude Oil Price (Brent)","v":49.75},
    {"date":"2016-05-18","s":"Crude Oil Price (Brent)","v":50.6},
    {"date":"2016-05-27","s":"Crude Oil Price (Brent)","v":49.4},
    {"date":"2016-06-04","s":"Crude Oil Price (Brent)","v":48.75},
    {"date":"2016-06-13","s":"Crude Oil Price (Brent)","v":49.75},
    {"date":"2016-06-21","s":"Crude Oil Price (Brent)","v":48.1},
    {"date":"2016-06-30","s":"Crude Oil Price (Brent)","v":46.25},
    {"date":"2016-07-06","s":"Crude Oil Price (Brent)","v":43.1},
    {"date":"2016-07-13","s":"Crude Oil Price (Brent)","v":44.4},
    {"date":"2016-07-21","s":"Crude Oil Price (Brent)","v":47.5},
    {"date":"2016-07-30","s":"Crude Oil Price (Brent)","v":50.0},
    {"date":"2016-08-06","s":"Crude Oil Price (Brent)","v":47.5},
    {"date":"2016-08-15","s":"Crude Oil Price (Brent)","v":48.1},
    {"date":"2016-08-23","s":"Crude Oil Price (Brent)","v":46.9},
    {"date":"2016-09-01","s":"Crude Oil Price (Brent)","v":49.4},
    {"date":"2016-09-10","s":"Crude Oil Price (Brent)","v":51.5},
    {"date":"2016-09-20","s":"Crude Oil Price (Brent)","v":52.5},
    {"date":"2016-10-02","s":"Crude Oil Price (Brent)","v":51.25},
    {"date":"2016-10-11","s":"Crude Oil Price (Brent)","v":48.1},
    {"date":"2016-10-19","s":"Crude Oil Price (Brent)","v":45.0},
    {"date":"2016-10-28","s":"Crude Oil Price (Brent)","v":46.25},
    {"date":"2016-11-06","s":"Crude Oil Price (Brent)","v":50.6},
    {"date":"2016-11-14","s":"Crude Oil Price (Brent)","v":54.4},
    {"date":"2016-11-25","s":"Crude Oil Price (Brent)","v":55.0},
    {"date":"2016-12-06","s":"Crude Oil Price (Brent)","v":56.25},
    {"date":"2016-12-14","s":"Crude Oil Price (Brent)","v":55.6},
    {"date":"2016-12-23","s":"Crude Oil Price (Brent)","v":55.6},
    {"date":"2017-01-01","s":"Crude Oil Price (Brent)","v":56.25},
    {"date":"2017-01-09","s":"Crude Oil Price (Brent)","v":56.9},
    {"date":"2017-01-18","s":"Crude Oil Price (Brent)","v":56.9},
    {"date":"2017-01-26","s":"Crude Oil Price (Brent)","v":56.25},
    {"date":"2017-02-04","s":"Crude Oil Price (Brent)","v":55.0},
    {"date":"2017-02-12","s":"Crude Oil Price (Brent)","v":51.9},
    {"date":"2017-02-20","s":"Crude Oil Price (Brent)","v":51.25},
    {"date":"2017-02-28","s":"Crude Oil Price (Brent)","v":50.6},
    {"date":"2017-03-08","s":"Crude Oil Price (Brent)","v":53.1},
    {"date":"2017-03-17","s":"Crude Oil Price (Brent)","v":55.6},
    {"date":"2017-03-26","s":"Crude Oil Price (Brent)","v":53.1},
    {"date":"2017-04-03","s":"Crude Oil Price (Brent)","v":50.0},
    {"date":"2017-04-10","s":"Crude Oil Price (Brent)","v":49.4},
    {"date":"2017-04-19","s":"Crude Oil Price (Brent)","v":51.9},
    {"date":"2017-04-27","s":"Crude Oil Price (Brent)","v":53.1},
    {"date":"2017-05-06","s":"Crude Oil Price (Brent)","v":50.6},
    {"date":"2017-05-16","s":"Crude Oil Price (Brent)","v":48.1},
    {"date":"2017-05-26","s":"Crude Oil Price (Brent)","v":46.25},
    {"date":"2017-06-02","s":"Crude Oil Price (Brent)","v":47.25},
    {"date":"2017-06-11","s":"Crude Oil Price (Brent)","v":47.5},
    {"date":"2017-06-19","s":"Crude Oil Price (Brent)","v":48.1},
    {"date":"2017-06-28","s":"Crude Oil Price (Brent)","v":50.0},
    {"date":"2017-07-06","s":"Crude Oil Price (Brent)","v":52.5},
    {"date":"2017-07-15","s":"Crude Oil Price (Brent)","v":51.9},
    {"date":"2017-07-23","s":"Crude Oil Price (Brent)","v":51.7},
    {"date":"2017-08-01","s":"Crude Oil Price (Brent)","v":52.9},
    {"date":"2017-08-10","s":"Crude Oil Price (Brent)","v":54.2},
    {"date":"2017-08-18","s":"Crude Oil Price (Brent)","v":54.8},
    {"date":"2017-09-01","s":"Crude Oil Price (Brent)","v":56.9},
    {"date":"2017-09-09","s":"Crude Oil Price (Brent)","v":56.0},
    {"date":"2017-09-18","s":"Crude Oil Price (Brent)","v":57.3},
    {"date":"2017-09-26","s":"Crude Oil Price (Brent)","v":57.9},
    {"date":"2017-10-05","s":"Crude Oil Price (Brent)","v":59.8},
    {"date":"2017-10-13","s":"Crude Oil Price (Brent)","v":61.6},
    {"date":"2017-10-22","s":"Crude Oil Price (Brent)","v":63.1},
    {"date":"2017-10-31","s":"Crude Oil Price (Brent)","v":62.9},
    {"date":"2017-11-08","s":"Crude Oil Price (Brent)","v":63.5},
    {"date":"2017-11-16","s":"Crude Oil Price (Brent)","v":63.5},
    {"date":"2017-11-25","s":"Crude Oil Price (Brent)","v":63.5},
    {"date":"2017-12-03","s":"Crude Oil Price (Brent)","v":65.4},
    {"date":"2017-12-12","s":"Crude Oil Price (Brent)","v":67.2},
    {"date":"2017-12-21","s":"Crude Oil Price (Brent)","v":68.5},
    {"date":"2017-12-30","s":"Crude Oil Price (Brent)","v":69.4},
    {"date":"2018-01-07","s":"Crude Oil Price (Brent)","v":70.1},
    {"date":"2018-01-14","s":"Crude Oil Price (Brent)","v":67.2},
    {"date":"2018-01-19","s":"Crude Oil Price (Brent)","v":64.1},
    {"date":"2018-01-27","s":"Crude Oil Price (Brent)","v":65.4},
    {"date":"2018-02-04","s":"Crude Oil Price (Brent)","v":66.9},
    {"date":"2018-02-13","s":"Crude Oil Price (Brent)","v":64.8},
    {"date":"2018-02-20","s":"Crude Oil Price (Brent)","v":66.0},
    {"date":"2018-02-28","s":"Crude Oil Price (Brent)","v":67.2},
    {"date":"2018-03-06","s":"Crude Oil Price (Brent)","v":70.4},
    {"date":"2018-03-15","s":"Crude Oil Price (Brent)","v":67.9},
    {"date":"2018-03-23","s":"Crude Oil Price (Brent)","v":71.6},
    {"date":"2018-04-02","s":"Crude Oil Price (Brent)","v":73.5},
    {"date":"2018-04-10","s":"Crude Oil Price (Brent)","v":76.0},
    {"date":"2018-04-18","s":"Crude Oil Price (Brent)","v":77.8},
    {"date":"2018-04-24","s":"Crude Oil Price (Brent)","v":79.1},
    {"date":"2018-05-01","s":"Crude Oil Price (Brent)","v":77.2},
    {"date":"2018-05-10","s":"Crude Oil Price (Brent)","v":77.2},
    {"date":"2018-05-18","s":"Crude Oil Price (Brent)","v":74.7},
    {"date":"2018-05-27","s":"Crude Oil Price (Brent)","v":76.6},
    {"date":"2018-06-04","s":"Crude Oil Price (Brent)","v":79.3},
    {"date":"2018-06-13","s":"Crude Oil Price (Brent)","v":77.2},
    {"date":"2018-06-21","s":"Crude Oil Price (Brent)","v":75.3},
    {"date":"2018-06-30","s":"Crude Oil Price (Brent)","v":74.1},
    {"date":"2018-07-08","s":"Crude Oil Price (Brent)","v":74.1},
    {"date":"2018-07-17","s":"Crude Oil Price (Brent)","v":72.9},
    {"date":"2018-07-26","s":"Crude Oil Price (Brent)","v":71.9},
    {"date":"2018-08-02","s":"Crude Oil Price (Brent)","v":76.6},
    {"date":"2018-08-11","s":"Crude Oil Price (Brent)","v":77.8},
    {"date":"2018-08-19","s":"Crude Oil Price (Brent)","v":77.2},
    {"date":"2018-08-28","s":"Crude Oil Price (Brent)","v":79.7},
    {"date":"2018-09-03","s":"Crude Oil Price (Brent)","v":81.6},
    {"date":"2018-09-09","s":"Crude Oil Price (Brent)","v":84.3},
    {"date":"2018-09-16","s":"Crude Oil Price (Brent)","v":82.2},
    {"date":"2018-09-24","s":"Crude Oil Price (Brent)","v":79.7},
    {"date":"2018-10-03","s":"Crude Oil Price (Brent)","v":75.3},
    {"date":"2018-10-11","s":"Crude Oil Price (Brent)","v":71.0},
    {"date":"2018-10-19","s":"Crude Oil Price (Brent)","v":68.5},
    {"date":"2018-10-28","s":"Crude Oil Price (Brent)","v":64.1},
    {"date":"2018-11-02","s":"Crude Oil Price (Brent)","v":58.5},
    {"date":"2018-11-10","s":"Crude Oil Price (Brent)","v":59.8},
    {"date":"2018-11-19","s":"Crude Oil Price (Brent)","v":63.1},
    {"date":"2018-11-23","s":"Crude Oil Price (Brent)","v":61.6},
    {"date":"2018-11-30","s":"Crude Oil Price (Brent)","v":57.3},
    {"date":"2018-12-07","s":"Crude Oil Price (Brent)","v":53.5},
    {"date":"2018-12-15","s":"Crude Oil Price (Brent)","v":56.7},
    {"date":"2018-12-20","s":"Crude Oil Price (Brent)","v":61.6},
    {"date":"2018-12-27","s":"Crude Oil Price (Brent)","v":62.9},
    {"date":"2019-01-05","s":"Crude Oil Price (Brent)","v":61.6},
    {"date":"2019-01-14","s":"Crude Oil Price (Brent)","v":62.3},
    {"date":"2019-01-22","s":"Crude Oil Price (Brent)","v":63.5},
    {"date":"2019-01-27","s":"Crude Oil Price (Brent)","v":66.0},
    {"date":"2019-02-02","s":"Crude Oil Price (Brent)","v":67.2}
  ]},
  "mark": {"type": "line", "strokeWidth": 3.2, "strokeJoin": "round", "strokeCap": "round"},
  "encoding": {
    "x": {
      "field": "date", "type": "temporal",
      "scale": {"type": "utc", "domain": [{"year": 2012, "month": 2, "date": 1, "utc": true}, {"year": 2019, "month": 2, "date": 3, "utc": true}]},
      "axis": {
        "title": null,
        "values": [
          {"year": 2012, "month": 2, "date": 1, "utc": true}, {"year": 2012, "month": 6, "date": 1, "utc": true}, {"year": 2012, "month": 10, "date": 1, "utc": true},
          {"year": 2013, "month": 2, "date": 1, "utc": true}, {"year": 2013, "month": 6, "date": 1, "utc": true}, {"year": 2013, "month": 10, "date": 1, "utc": true},
          {"year": 2014, "month": 2, "date": 1, "utc": true}, {"year": 2014, "month": 6, "date": 1, "utc": true}, {"year": 2014, "month": 10, "date": 1, "utc": true},
          {"year": 2015, "month": 2, "date": 1, "utc": true}, {"year": 2015, "month": 6, "date": 1, "utc": true}, {"year": 2015, "month": 10, "date": 1, "utc": true},
          {"year": 2016, "month": 2, "date": 1, "utc": true}, {"year": 2016, "month": 6, "date": 1, "utc": true}, {"year": 2016, "month": 10, "date": 1, "utc": true},
          {"year": 2017, "month": 2, "date": 1, "utc": true}, {"year": 2017, "month": 6, "date": 1, "utc": true}, {"year": 2017, "month": 10, "date": 1, "utc": true},
          {"year": 2018, "month": 2, "date": 1, "utc": true}, {"year": 2018, "month": 6, "date": 1, "utc": true}, {"year": 2018, "month": 10, "date": 1, "utc": true},
          {"year": 2019, "month": 2, "date": 1, "utc": true}
        ],
        "format": "%b-%y",
        "labelAngle": -90,
        "labelAlign": "right",
        "labelBaseline": "middle",
        "labelFont": "Liberation Sans",
        "labelFontSize": 13,
        "labelColor": "#333333",
        "labelPadding": 3,
        "labelOverlap": false,
        "labelFlush": false,
        "tickColor": "#999999",
        "tickSize": 5,
        "domainColor": "#999999",
        "domainWidth": 1.5,
        "grid": false
      }
    },
    "y": {
      "field": "v", "type": "quantitative",
      "scale": {"domain": [20, 160], "nice": false, "zero": false},
      "axis": {
        "title": null,
        "values": [20, 40, 60, 80, 100, 120, 140, 160],
        "grid": true,
        "gridColor": "#e8e8e8",
        "gridWidth": 1.5,
        "domain": false,
        "ticks": false,
        "labelPadding": 18,
        "labelFont": "DejaVu Sans",
        "labelFontSize": 16,
        "labelColor": "#333333"
      }
    },
    "color": {
      "field": "s", "type": "nominal",
      "scale": {"domain": ["Jet Fuel Price", "Crude Oil Price (Brent)"], "range": ["#1f2dff", "#f2452d"]},
      "legend": {
        "orient": "none", "legendX": 380, "legendY": 29, "direction": "horizontal", "columns": 2, "columnPadding": 118,
        "title": null, "symbolType": "stroke", "symbolSize": 900, "symbolStrokeWidth": 3,
        "labelFont": "DejaVu Sans", "labelFontSize": 13, "labelColor": "#333333", "labelOffset": 1
      }
    }
  }
}
